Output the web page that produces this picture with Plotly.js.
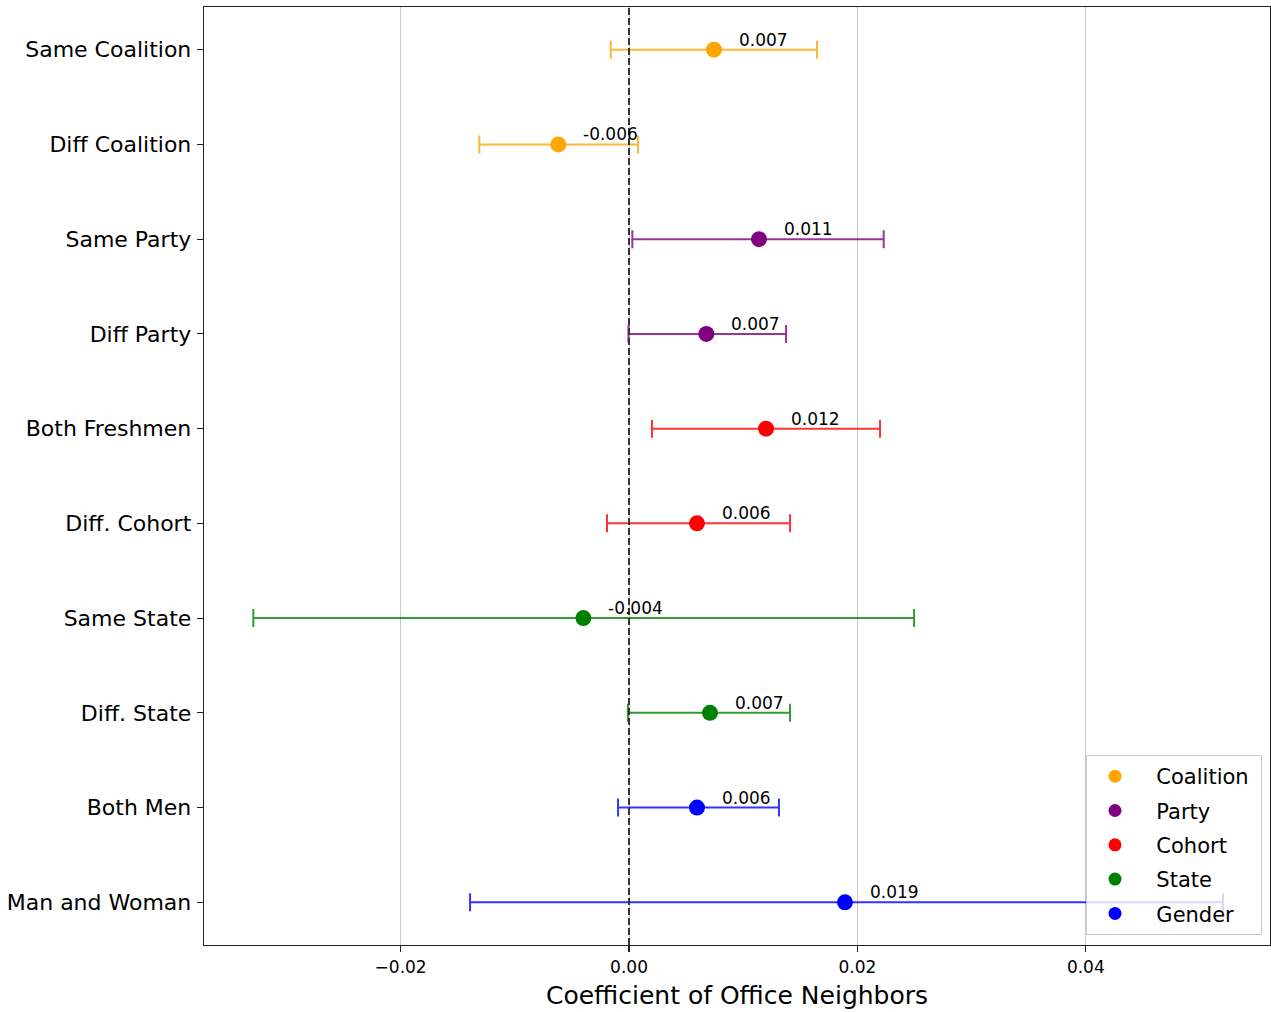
<!DOCTYPE html>
<html>
<head>
<meta charset="utf-8">
<script src="https://cdn.plot.ly/plotly-3.0.1.min.js"></script>
<style>
html,body{margin:0;padding:0;background:#fff;}
#chart{width:1271px;height:1012px;}
</style>
</head>
<body>
<div id="chart"></div>
<script>
// ---- data ----
var categories = ["Same Coalition","Diff Coalition","Same Party","Diff Party","Both Freshmen",
                  "Diff. Cohort","Same State","Diff. State","Both Men","Man and Woman"];
var coefs  = [0.00744, -0.00619, 0.01138, 0.00677, 0.01200, 0.00595, -0.00400, 0.00709, 0.00595, 0.01891];
var lowers = [-0.00160, -0.01311, 0.00029, -0.00005, 0.00201, -0.00193, -0.03290, -0.00010, -0.00096, -0.01392];
var uppers = [0.01646, 0.00079, 0.02230, 0.01375, 0.02198, 0.01410, 0.02496, 0.01410, 0.01313, 0.05201];
var groups = ["Coalition","Party","Cohort","State","Gender"];
var groupColors = ["#FFA500","#800080","#FF0000","#008000","#0000FF"];
var groupErrColors = ["rgba(255,165,0,0.8)","rgba(128,0,128,0.8)","rgba(255,0,0,0.8)","rgba(0,128,0,0.8)","rgba(0,0,255,0.8)"];
var groupOfRow = [0,0,1,1,2,2,3,3,4,4];
var xTicks = [-0.02, 0.00, 0.02, 0.04];

var FONT = "DejaVu Sans, Verdana, sans-serif";
var traces = [];
var rows = categories.map(function(_, i){ return i; });

groups.forEach(function(g, gi){
  var idx = rows.filter(function(i){ return groupOfRow[i] === gi; });
  traces.push({
    type: "scatter", mode: "markers",
    x: idx.map(function(i){ return coefs[i]; }),
    y: idx.map(function(i){ return i; }),
    marker: {color: groupColors[gi], size: 16},
    error_x: {
      type: "data", symmetric: false,
      array: idx.map(function(i){ return uppers[i] - coefs[i]; }),
      arrayminus: idx.map(function(i){ return coefs[i] - lowers[i]; }),
      color: groupErrColors[gi], thickness: 2, width: 9
    },
    showlegend: false, hoverinfo: "x+y", cliponaxis: false
  });
});
// legend-only traces
groups.forEach(function(g, gi){
  traces.push({
    type: "scatter", mode: "markers", x: [null], y: [null],
    name: "\u00a0\u00a0" + g + "\u00a0", legendgroup: g,
    marker: {color: groupColors[gi], size: 13},
    showlegend: true
  });
});

var annotations = rows.map(function(i){
  return {
    x: coefs[i] + 0.002, y: i, xref: "x", yref: "y",
    text: coefs[i].toFixed(3), showarrow: false,
    xanchor: "left", yanchor: "middle", yshift: 10,
    font: {family: FONT, size: 17, color: "#000"}
  };
});

var layout = {
  width: 1271, height: 1012,
  margin: {l: 204, r: 1, t: 7, b: 67, pad: 0},
  paper_bgcolor: "#fff", plot_bgcolor: "#fff",
  font: {family: FONT, color: "#000"},
  showlegend: true,
  xaxis: {
    range: [-0.03722, 0.05613],
    tickvals: xTicks, tickformat: ".2f",
    showgrid: true, gridcolor: "#c8c8c8", gridwidth: 1,
    zeroline: false,
    showline: true, linecolor: "#222", linewidth: 1.3, mirror: true,
    ticks: "outside", ticklen: 6, tickcolor: "#222", tickwidth: 1.2,
    tickfont: {family: FONT, size: 17, color: "#000"},
    title: {text: "Coefficient of Office Neighbors", font: {family: FONT, size: 25, color: "#000"}, standoff: 10}
  },
  yaxis: {
    range: [9.45, -0.45],
    tickvals: rows, ticktext: categories,
    showgrid: false, zeroline: false,
    showline: true, linecolor: "#222", linewidth: 1.3, mirror: true,
    ticks: "outside", ticklen: 6, tickcolor: "#222", tickwidth: 1.2,
    ticklabelstandoff: 1,
    tickfont: {family: FONT, size: 22, color: "#000"}
  },
  shapes: [{
    type: "line", xref: "x", yref: "paper", x0: 0, x1: 0, y0: 0, y1: 1,
    line: {color: "#333", width: 2, dash: "7px,3px"}, layer: "above"
  }],
  annotations: annotations,
  legend: {
    x: 0.9925, y: 0.0106, xanchor: "right", yanchor: "bottom",
    bgcolor: "rgba(255,255,255,0.8)", bordercolor: "#cccccc", borderwidth: 1,
    font: {family: FONT, size: 21, color: "#000"},
    tracegroupgap: 4, itemwidth: 46
  }
};

Plotly.newPlot("chart", traces, layout, {displayModeBar: false, staticPlot: true});
</script>
</body>
</html>
